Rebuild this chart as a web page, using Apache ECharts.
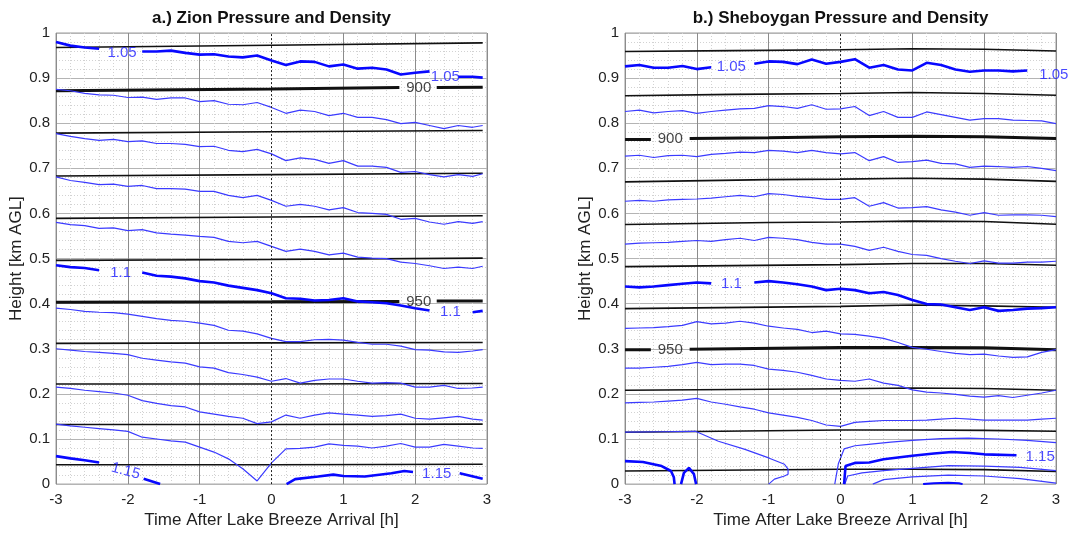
<!DOCTYPE html>
<html><head><meta charset="utf-8">
<script src="https://cdn.jsdelivr.net/npm/echarts/dist/echarts.min.js"></script>
<style>html,body{margin:0;padding:0;background:#fff}#c{width:1068px;height:534px}</style>
</head><body><div id="c"></div><script>
const FONT = '"Liberation Sans", Arial, Helvetica, sans-serif';

// ---------- time axes (h after lake breeze arrival) ----------
const TA = [-3,-2.8,-2.6,-2.4,-2.2,-2,-1.8,-1.6,-1.4,-1.2,-1,-0.8,-0.6,-0.4,-0.2,0,0.2,0.4,0.6,0.8,1,1.2,1.4,1.6,1.8,2,2.2,2.4,2.6,2.8,2.94];
const TB = [-3,-2.8,-2.6,-2.4,-2.2,-2,-1.8,-1.6,-1.4,-1.2,-1,-0.8,-0.6,-0.4,-0.2,0,0.2,0.4,0.6,0.8,1,1.2,1.4,1.6,1.8,2,2.2,2.4,2.6,2.8,3];

// ---------- a.) Zion : pressure contours [t, height km] ----------
const zionP890 = [[-3,0.968],[0,0.973],[2.94,0.978]];
const zionP900 = [[-3,0.872],[0,0.876],[1.78,0.879],[2.05,null],[2.3,0.879],[2.94,0.880]];
const zionP910 = [[-3,0.778],[0,0.781],[2.94,0.784]];
const zionP920 = [[-3,0.683],[0,0.686],[2.94,0.689]];
const zionP930 = [[-3,0.589],[0,0.592],[2.94,0.595]];
const zionP940 = [[-3,0.496],[0,0.498],[2.94,0.501]];
const zionP950 = [[-3,0.403],[0,0.404],[1.78,0.405],[2.05,null],[2.3,0.406],[2.94,0.406]];
const zionP960 = [[-3,0.312],[0,0.313],[2.94,0.314]];
const zionP970 = [[-3,0.222],[0,0.222],[2.94,0.223]];
const zionP980 = [[-3,0.132],[0,0.132],[2.94,0.133]];
const zionP990 = [[-3,0.043],[0,0.043],[2.94,0.044]];

// ---------- a.) Zion : density contours, height (km) at TA ----------
const zionD105 = [0.980,0.972,0.968,0.965,null,null,0.959,0.959,0.961,0.956,0.952,0.953,0.948,0.946,0.950,0.939,0.929,0.937,0.936,0.926,0.930,0.921,0.923,0.919,0.908,0.912,0.915,null,0.903,0.903,0.901];
const zionD106 = [0.875,0.872,0.866,0.863,0.862,0.857,0.858,0.853,0.856,0.856,0.848,0.850,0.842,0.841,0.846,0.835,0.822,0.829,0.826,0.817,0.822,0.813,0.813,0.808,0.799,0.802,0.795,0.788,0.795,0.791,0.795];
const zionD107 = [0.777,0.771,0.766,0.762,0.764,0.759,0.761,0.755,0.755,0.753,0.748,0.749,0.740,0.737,0.742,0.732,0.717,0.723,0.720,0.711,0.717,0.705,0.705,0.702,0.691,0.693,0.686,0.681,0.686,0.682,0.688];
const zionD108 = [0.681,0.673,0.669,0.664,0.665,0.660,0.662,0.655,0.655,0.654,0.649,0.649,0.640,0.635,0.640,0.629,0.616,0.620,0.616,0.608,0.613,0.602,0.600,0.598,0.587,0.589,0.581,0.576,0.582,0.578,0.582];
const zionD109 = [0.580,0.575,0.573,0.567,0.568,0.562,0.564,0.557,0.554,0.552,0.549,0.547,0.538,0.535,0.538,0.527,0.516,0.521,0.516,0.508,0.512,0.503,0.501,0.500,0.492,0.489,0.484,0.478,0.481,0.478,0.483];
const zionD110 = [0.485,0.481,0.479,0.474,null,null,0.469,0.462,0.460,0.456,0.450,0.447,0.440,0.435,0.430,0.423,0.412,0.411,0.407,0.408,0.412,0.405,0.403,0.401,0.396,0.390,0.385,null,null,0.381,0.384];
const zionD111 = [0.390,0.387,0.383,0.381,0.380,0.377,0.372,0.367,0.363,0.361,0.357,0.352,0.341,0.339,0.333,0.323,0.316,0.316,0.320,0.321,0.319,0.314,0.310,0.310,0.306,0.298,0.297,0.293,0.292,0.295,0.298];
const zionD112 = [0.300,0.297,0.294,0.292,0.290,0.287,0.279,0.275,0.271,0.268,0.260,0.257,0.247,0.243,0.237,0.228,0.234,0.224,0.230,0.233,0.233,0.228,0.224,0.225,0.224,0.215,0.215,0.219,0.212,0.213,0.215];
const zionD113 = [0.215,0.212,0.208,0.205,0.202,0.197,0.185,0.179,0.174,0.171,0.160,0.155,0.150,0.146,0.134,0.138,0.153,0.146,0.153,0.158,0.155,0.153,0.150,0.152,0.155,0.146,0.144,0.147,0.150,0.144,0.142];
const zionD114 = [0.133,0.129,0.126,0.123,0.120,0.117,0.104,0.100,0.096,0.093,0.082,0.071,0.056,0.034,0.007,0.047,0.078,0.079,0.082,0.089,0.086,0.084,0.080,0.084,0.090,0.082,0.082,0.088,0.084,0.080,0.079];
const zionD115 = [[-3,0.062],[-2.8,0.057],[-2.6,0.053],[-2.4,0.048],[-2.1,null],[-1.78,0.012],[-1.55,0],[-0.5,null],
  [0.21,0],[0.33,0.011],[0.65,0.017],[0.86,0.021],[1.0,0.018],[1.3,0.017],[1.67,0.024],[1.85,0.029],[1.97,0.027],[2.3,null],[2.62,0.024],[2.94,0.012]];

// labels [t, height, text, rotation]
const zionPresLabels = [[2.05,0.879,'900',0],[2.05,0.405,'950',0]];
const zionDensLabels = [[-2.08,0.955,'1.05',0],[2.42,0.902,'1.05',0],[-2.1,0.468,'1.1',0],[2.49,0.381,'1.1',0],[-2.03,0.029,'1.15',-15],[2.3,0.022,'1.15',0]];

// ---------- b.) Sheboygan : pressure contours ----------
const shebP880 = [[-3,0.959],[-1.5,0.961],[0,0.963],[1,0.965],[2,0.964],[3,0.960]];
const shebP890 = [[-3,0.861],[-1.5,0.864],[0,0.866],[1,0.868],[2,0.866],[3,0.862]];
const shebP900 = [[-3,0.764],[-2.64,0.764],[-2.37,null],[-2.1,0.766],[-1,0.768],[0,0.770],[1,0.771],[2,0.770],[3,0.766]];
const shebP910 = [[-3,0.670],[-1,0.675],[0,0.676],[1,0.678],[2,0.676],[3,0.671]];
const shebP920 = [[-3,0.5755],[-1,0.580],[0,0.581],[1,0.583],[2,0.582],[3,0.576]];
const shebP930 = [[-3,0.482],[0,0.4865],[1,0.489],[2,0.489],[3,0.485]];
const shebP940 = [[-3,0.389],[0,0.394],[1,0.397],[2,0.395],[3,0.392]];
const shebP950 = [[-3,0.298],[-2.64,0.298],[-2.37,null],[-2.1,0.299],[0,0.303],[1,0.303],[2,0.302],[3,0.298]];
const shebP960 = [[-3,0.208],[0,0.2115],[1,0.213],[2,0.212],[3,0.208]];
const shebP970 = [[-3,0.115],[0,0.120],[1,0.120],[2,0.119],[3,0.117]];
const shebP980 = [[-3,0.029],[0,0.033],[1,0.033],[2,0.032],[3,0.028]];

// ---------- b.) Sheboygan : density contours at TB ----------
const shebD105 = [0.926,0.929,0.923,0.923,0.927,0.920,0.924,null,null,0.932,0.937,0.936,0.931,0.941,0.932,0.936,0.942,0.923,0.929,0.919,0.917,0.934,0.929,0.919,0.914,0.917,0.917,0.915,0.917,null,null];
const shebD106 = [0.826,0.829,0.823,0.826,0.828,0.822,0.826,0.829,0.832,0.833,0.839,0.837,0.833,0.841,0.831,0.832,0.837,0.817,0.826,0.813,0.813,0.825,0.819,0.813,0.807,0.810,0.810,0.807,0.806,0.805,0.799];
const shebD107 = [0.727,0.729,0.724,0.728,0.729,0.726,0.731,0.733,0.736,0.735,0.740,0.738,0.735,0.740,0.735,0.732,0.735,0.717,0.726,0.713,0.715,0.718,0.711,0.710,0.702,0.705,0.704,0.702,0.704,0.700,0.695];
const shebD108 = [0.627,0.629,0.627,0.630,0.631,0.632,0.634,0.637,0.640,0.637,0.644,0.642,0.638,0.635,0.631,0.631,0.635,0.616,0.624,0.612,0.613,0.615,0.608,0.603,0.596,0.602,0.596,0.597,0.597,0.596,0.593];
const shebD109 = [0.532,0.534,0.535,0.536,0.538,0.540,0.538,0.542,0.545,0.540,0.547,0.545,0.542,0.536,0.532,0.532,0.527,0.518,0.525,0.516,0.509,0.507,0.500,0.494,0.489,0.495,0.490,0.490,0.492,0.492,0.494];
const shebD110 = [0.438,0.436,0.438,0.441,0.444,0.447,0.445,null,null,0.447,0.450,0.447,0.443,0.438,0.430,0.433,0.430,0.423,0.426,0.419,0.408,0.399,0.398,0.392,0.386,0.392,0.384,0.386,0.389,0.390,0.392];
const shebD111 = [0.345,0.346,0.347,0.349,0.352,0.360,0.355,0.357,0.361,0.357,0.350,0.346,0.343,0.336,0.339,0.333,0.332,0.328,0.323,0.314,0.303,0.299,0.294,0.290,0.287,0.288,0.284,0.281,0.282,0.292,0.298];
const shebD112 = [0.257,0.257,0.259,0.261,0.265,0.270,0.265,0.266,0.266,0.263,0.255,0.252,0.248,0.241,0.233,0.230,0.228,0.233,0.224,0.219,0.209,0.204,0.202,0.199,0.195,0.193,0.196,0.192,0.197,0.202,0.208];
const shebD113 = [0.180,0.181,0.182,0.184,0.186,0.190,0.182,0.177,0.171,0.166,0.158,0.153,0.148,0.141,0.131,0.128,0.137,0.139,0.141,0.141,0.141,0.142,0.144,0.146,0.144,0.142,0.142,0.142,0.142,0.144,0.146];
const shebD114 = [[-3,0.115],[-2.5,0.116],[-2.02,0.117],[-1.7,0.095],[-1.33,0.077],[-1.0,0.058],[-0.78,0.044],[-0.73,0.033],[-0.73,0.022],[-0.78,0.018],[-0.92,0.011],[-1.0,0],[-0.5,null],
  [-0.08,0],[-0.03,0.045],[0.05,0.078],[0.2,0.085],[0.39,0.088],[0.7,0.093],[1.0,0.097],[1.4,0.101],[1.78,0.102],[2.2,0.100],[2.6,0.097],[3.0,0.092]];
const shebD115 = [[-3,0.051],[-2.75,0.049],[-2.49,0.040],[-2.36,0.029],[-2.32,0.015],[-2.31,0],[-2.26,null],
  [-2.22,0],[-2.18,0.025],[-2.11,0.036],[-2.04,0.022],[-2.01,0],[-1,null],
  [0.05,0],[0.07,0.040],[0.2,0.047],[0.4,0.048],[0.6,0.055],[1.0,0.063],[1.3,0.068],[1.55,0.071],[1.8,0.069],[2.0,0.066],[2.45,0.064]];
const shebD116 = [[0.06,0],[0.1,0.018],[0.3,0.025],[0.6,0.030],[1.0,0.035],[1.5,0.041],[2.0,0.040],[2.5,0.037],[3.0,0.030]];
const shebD117 = [[0.45,0],[0.6,0.010],[1.0,0.016],[1.5,0.020],[2.0,0.018],[2.5,0.012],[3.0,0.002]];
const shebD118 = [[1.15,0],[1.3,0.002],[1.5,0.003],[1.65,0.002],[1.7,0]];

const shebPresLabels = [[-2.37,0.765,'900',0],[-2.37,0.298,'950',0]];
const shebDensLabels = [[-1.52,0.924,'1.05',0],[2.97,0.908,'1.05',0],[-1.52,0.445,'1.1',0],[2.78,0.060,'1.15',0]];

// ---------- build ----------
const BLACK = '#111111', BLUE_THIN = '#3b3bff', BLUE_THICK = '#0808ff';
const series = [];
const zip = (T, H) => T.map((t, i) => [t, H[i]]);
function addLine(g, data, color, width, z, extra) {
  series.push(Object.assign({
    type: 'line', xAxisIndex: g, yAxisIndex: g, data: data,
    symbol: 'none', showSymbol: false, silent: true, animation: false,
    connectNulls: false, clip: true, z: z,
    lineStyle: { color: color, width: width }
  }, extra || {}));
}
function addLabels(g, items, color) {
  series.push({
    type: 'scatter', xAxisIndex: g, yAxisIndex: g, symbolSize: 1, silent: true, animation: false, z: 20,
    itemStyle: { color: 'rgba(0,0,0,0)' },
    data: items.map(d => ({ name: d[2], value: [d[0], d[1]], label: { rotate: d[3] } })),
    label: { show: true, position: 'inside', formatter: '{b}', color: color, fontSize: 15, fontFamily: FONT }
  });
}
const zeroMark = { markLine: { silent: true, symbol: 'none', animation: false, label: { show: false },
  lineStyle: { type: [2, 2], color: '#222', width: 1 }, data: [{ xAxis: 0 }] } };

// panel a
[zionP890, zionP910, zionP920, zionP930, zionP940, zionP960, zionP970, zionP980, zionP990]
  .forEach((d, i) => addLine(0, d, BLACK, 1.6, 3, i === 0 ? zeroMark : null));
[zionP900, zionP950].forEach(d => addLine(0, d, BLACK, 3, 3));
[zionD106, zionD107, zionD108, zionD109, zionD111, zionD112, zionD113, zionD114]
  .forEach(d => addLine(0, zip(TA, d), BLUE_THIN, 1.2, 4));
[zionD105, zionD110].forEach(d => addLine(0, zip(TA, d), BLUE_THICK, 2.6, 5));
addLine(0, zionD115, BLUE_THICK, 2.6, 5);
addLabels(0, zionPresLabels, '#111');
addLabels(0, zionDensLabels, '#1a1aff');

// panel b
[shebP880, shebP890, shebP910, shebP920, shebP930, shebP940, shebP960, shebP970, shebP980]
  .forEach((d, i) => addLine(1, d, BLACK, 1.6, 3, i === 0 ? zeroMark : null));
[shebP900, shebP950].forEach(d => addLine(1, d, BLACK, 3, 3));
[shebD106, shebD107, shebD108, shebD109, shebD111, shebD112, shebD113]
  .forEach(d => addLine(1, zip(TB, d), BLUE_THIN, 1.2, 4));
[shebD114, shebD116, shebD117].forEach(d => addLine(1, d, BLUE_THIN, 1.2, 4));
[shebD105, shebD110].forEach(d => addLine(1, zip(TB, d), BLUE_THICK, 2.6, 5));
addLine(1, shebD115, BLUE_THICK, 2.6, 5);
addLine(1, shebD118, BLUE_THICK, 2, 5);
addLabels(1, shebPresLabels, '#111');
addLabels(1, shebDensLabels, '#1a1aff');

const gridLefts = [56, 625];
const xSplitColors = ['#8c8c8c','#8c8c8c','#8c8c8c','rgba(0,0,0,0)','#8c8c8c','#8c8c8c','#8c8c8c'];
const option = {
  backgroundColor: '#ffffff',
  animation: false,
  grid: gridLefts.map(l => ({ left: l, top: 33, width: 431, height: 457, show: true, borderColor: '#9a9a9a', borderWidth: 1, backgroundColor: 'transparent' })),
  xAxis: [0, 1].map(g => ({
    gridIndex: g, type: 'value', min: -3, max: 3, interval: 1,
    name: 'Time After Lake Breeze Arrival [h]', nameLocation: 'middle', nameGap: 26,
    nameTextStyle: { fontSize: 17, color: '#222', fontFamily: FONT },
    axisLine: { show: false }, axisTick: { show: false },
    axisLabel: { fontSize: 15, color: '#222', margin: 8, fontFamily: FONT },
    splitLine: { show: true, lineStyle: { color: xSplitColors, width: 1 } },
    minorTick: { show: false, splitNumber: 5 },
    minorSplitLine: { show: true, lineStyle: { color: '#d2d2d2', type: [1, 2], width: 1 } }
  })),
  yAxis: [0, 1].map(g => ({
    gridIndex: g, type: 'value', min: 0, max: 1, interval: 0.1,
    name: 'Height [km AGL]', nameLocation: 'middle', nameGap: 29,
    nameTextStyle: { fontSize: 17, color: '#222', fontFamily: FONT },
    axisLine: { show: false }, axisTick: { show: false },
    axisLabel: { fontSize: 15, color: '#222', margin: 6, fontFamily: FONT },
    splitLine: { show: true, lineStyle: { color: '#b4b4b4', width: 1.2 } },
    minorTick: { show: false, splitNumber: 5 },
    minorSplitLine: { show: true, lineStyle: { color: '#d2d2d2', type: [1, 2], width: 1 } }
  })),
  graphic: [
    { type: 'text', x: 271.5, y: 18, silent: true, style: { text: 'a.) Zion Pressure and Density', fontSize: 17, fontWeight: 'bold', fontFamily: FONT, fill: '#111', align: 'center', verticalAlign: 'middle' } },
    { type: 'text', x: 840.5, y: 18, silent: true, style: { text: 'b.) Sheboygan Pressure and Density', fontSize: 17, fontWeight: 'bold', fontFamily: FONT, fill: '#111', align: 'center', verticalAlign: 'middle' } }
  ],
  series: series
};
const chart = echarts.init(document.getElementById('c'), null, { renderer: 'canvas' });
chart.setOption(option);
</script></body></html>
